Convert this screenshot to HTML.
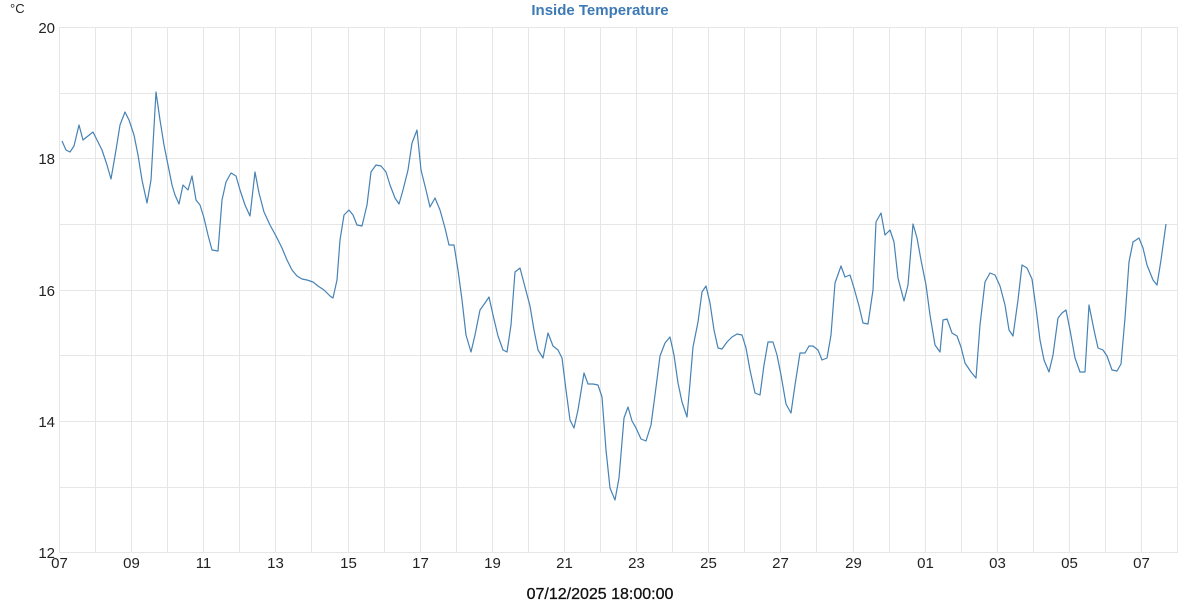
<!DOCTYPE html>
<html><head><meta charset="utf-8"><style>
html,body{margin:0;padding:0;background:#fff;width:1200px;height:600px;overflow:hidden}
svg{display:block;font-family:"Liberation Sans",sans-serif}
</style></head><body>
<svg width="1200" height="600" viewBox="0 0 1200 600">
<g stroke="#e6e6e6" stroke-width="1" fill="none">
<line x1="59" y1="27.5" x2="1177" y2="27.5"/><line x1="59" y1="93.5" x2="1177" y2="93.5"/>
<line x1="59" y1="158.5" x2="1177" y2="158.5"/><line x1="59" y1="224.5" x2="1177" y2="224.5"/>
<line x1="59" y1="290.5" x2="1177" y2="290.5"/><line x1="59" y1="355.5" x2="1177" y2="355.5"/>
<line x1="59" y1="421.5" x2="1177" y2="421.5"/><line x1="59" y1="487.5" x2="1177" y2="487.5"/>
<line x1="59" y1="552.5" x2="1177" y2="552.5"/>
</g>
<g id="vg" stroke="#e6e6e6" stroke-width="1"></g>
<text x="600" y="15" text-anchor="middle" font-size="15" font-weight="bold" fill="#3d7ab5">Inside Temperature</text>
<text x="10" y="13" font-size="13" fill="#222">°C</text>
<g font-size="15" fill="#222" text-anchor="end">
<text x="55" y="33">20</text><text x="55" y="164">18</text><text x="55" y="296">16</text>
<text x="55" y="427">14</text><text x="55" y="558">12</text>
</g>
<g id="xl" font-size="15" fill="#222" text-anchor="middle"></g>
<text x="600" y="599" text-anchor="middle" font-size="16" fill="#111" stroke="#111" stroke-width="0.3">07/12/2025 18:00:00</text>
<polyline fill="none" stroke="#4682b4" stroke-width="1.2" stroke-linejoin="round" points="62,141 66,150 70,152 74,146 79,125 83,140 88,136 93,132 97,140 102,150 107,165 111,179 116,150 120,125 125,112 129,120 134,135 138,155 142,180 147,203 151,180 156,92 160,120 164,145 168,165 172,185 175,195 179,204 183,185 188,190 192,176 196,200 200,205 204,218 208,235 212,250 218,251 222,200 226,182 231,173 236,176 240,190 245,205 250,216 255,172 259,193 264,212 270,225 276,236 282,248 287,260 292,270 297,276 302,279 307,280 313,282 318,286 324,290 330,296 333,298 337,280 340,240 344,215 349,210 353,215 357,225 362,226 367,205 371,172 376,165 381,166 386,172 390,185 395,198 399,204 403,190 408,170 412,143 417,130 421,170 426,190 430,207 435,198 440,210 445,228 449,245 454,245 458,270 462,300 466,335 471,352 475,335 480,310 485,303 489,297 493,315 498,336 503,350 507,352 511,325 515,272 520,268 525,287 530,306 534,330 538,350 543,358 548,333 553,346 558,350 562,358 566,390 570,420 574,428 578,410 584,373 588,384 593,384 598,385 602,397 606,450 610,488 615,500 619,478 624,418 628,407 632,421 636,428 641,439 646,441 651,425 655,395 660,356 665,343 670,337 674,355 678,383 682,402 687,417 690,383 693,347 698,322 702,292 706,286 710,303 714,330 718,348 722,349 727,342 732,337 737,334 742,335 746,348 750,370 755,393 760,395 764,365 768,342 773,342 777,355 781,375 786,404 791,413 795,385 800,353 805,353 809,346 813,346 818,350 822,360 827,358 831,335 835,283 841,266 845,277 850,275 854,288 859,306 863,323 868,324 873,290 876,222 881,213 885,235 890,230 894,242 898,278 904,301 908,285 913,224 917,238 921,260 926,285 930,315 935,345 940,352 943,320 947,319 952,333 957,336 961,347 965,363 971,372 976,378 980,325 985,282 990,273 995,275 1000,286 1005,305 1009,330 1013,336 1018,300 1022,265 1027,268 1032,279 1036,308 1040,340 1044,360 1049,372 1053,355 1058,318 1062,313 1066,310 1070,330 1075,358 1080,372 1085,372 1089,305 1094,330 1098,348 1103,350 1107,356 1112,370 1117,371 1121,364 1125,318 1129,262 1133,242 1139,238 1143,248 1147,265 1153,280 1157,285 1161,260 1166,224"/>
</svg>
<script>
var ns="http://www.w3.org/2000/svg",vg=document.getElementById("vg"),xl=document.getElementById("xl");
var labs=["07","09","11","13","15","17","19","21","23","25","27","29","01","03","05","07"];
for(var d=0;d<=31;d++){var x=Math.round(59+d*36.07)+0.5;var l=document.createElementNS(ns,"line");
l.setAttribute("x1",x);l.setAttribute("x2",x);l.setAttribute("y1",27);l.setAttribute("y2",553);vg.appendChild(l);
if(d%2==0&&d/2<labs.length){var t=document.createElementNS(ns,"text");t.setAttribute("x",x);t.setAttribute("y",568);t.textContent=labs[d/2];xl.appendChild(t);}}
</script>
</body></html>
